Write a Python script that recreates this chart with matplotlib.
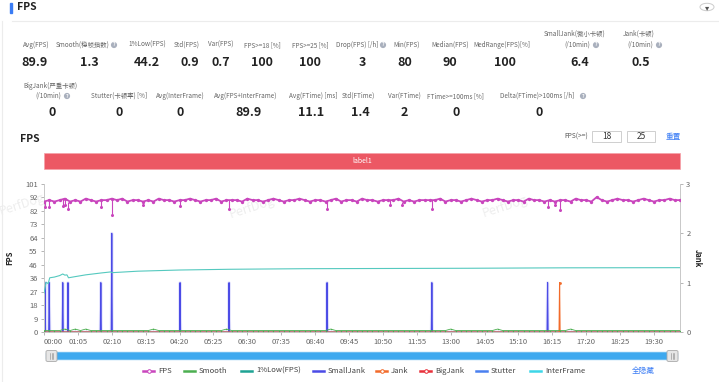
import numpy as np
import matplotlib
matplotlib.use('Agg')
import matplotlib.pyplot as plt
from matplotlib.lines import Line2D
from matplotlib.patches import Rectangle, FancyBboxPatch, Circle

plt.rcParams['font.family'] = ['Noto Sans CJK SC', 'DejaVu Sans']

# ---- summary stats (top cards) ----
row1_labels = ['Avg(FPS)', 'Smooth(稳帧指数)', '1%Low(FPS)', 'Std(FPS)', 'Var(FPS)', 'FPS>=18 [%]',
               'FPS>=25 [%]', 'Drop(FPS) [/h]', 'Min(FPS)', 'Median(FPS)', 'MedRange(FPS)[%]',
               'SmallJank(微小卡顿)', 'Jank(卡顿)']
row1_values = ['89.9', '1.3', '44.2', '0.9', '0.7', '100', '100', '3', '80', '90', '100', '6.4', '0.5']
row2_labels = ['BigJank(严重卡顿)', 'Stutter(卡顿率) [%]', 'Avg(InterFrame)', 'Avg(FPS+InterFrame)',
               'Avg(FTime) [ms]', 'Std(FTime)', 'Var(FTime)', 'FTime>=100ms [%]', 'Delta(FTime)>100ms [/h]']
row2_values = ['0', '0', '0', '89.9', '11.1', '1.4', '2', '0', '0']

# ---- time series ----
fps_t = np.arange(0, 1230, 10)   # sampled every 10 s
fps = [89, 90, 89, 90, 91, 89, 90, 89, 91, 90, 89, 90, 90, 91, 90, 91, 89, 90, 90, 89,
       90, 89, 91, 90, 90, 89, 90, 90, 91, 90, 89, 90, 90, 91, 89, 90, 90, 90, 89, 91,
       90, 90, 89, 90, 91, 90, 89, 90, 90, 91, 90, 89, 90, 90, 89, 90, 91, 89, 90, 90,
       89, 91, 90, 90, 89, 90, 90, 90, 91, 89, 90, 89, 90, 90, 90, 90, 91, 89, 90, 90,
       89, 90, 91, 90, 89, 90, 90, 91, 90, 89, 90, 90, 89, 91, 90, 90, 89, 90, 89, 90,
       90, 89, 91, 90, 90, 89, 92, 90, 89, 90, 91, 90, 90, 89, 90, 91, 90, 89, 90, 90,
       91, 90, 90]
# short frame-rate drops (time in s, fps)
dip_t = [1, 10, 36, 40, 46, 109, 130, 190, 260, 355, 543, 663, 686, 744, 966, 981, 989]
dip_v = [85, 85, 86, 87, 84, 85, 80, 87, 86, 84, 84, 87, 87, 84, 85, 87, 83]

smooth = [1, 1, 1, 1, 2, 1, 2, 1, 2, 1, 1, 1, 1, 1, 1, 1, 1, 1, 1, 1,
          1, 2, 1, 1, 1, 1, 1, 1, 1, 1, 1, 1, 1, 1, 1, 2, 1, 1, 1, 1,
          1, 1, 1, 1, 1, 1, 1, 1, 1, 1, 1, 1, 1, 1, 1, 2, 1, 1, 1, 1,
          1, 1, 1, 1, 1, 1, 1, 1, 1, 1, 1, 1, 1, 1, 1, 1, 1, 1, 2, 1,
          1, 1, 1, 1, 1, 1, 1, 2, 1, 1, 1, 1, 1, 1, 1, 1, 1, 1, 1, 1,
          1, 2, 1, 1, 1, 1, 1, 1, 1, 1, 1, 1, 1, 1, 1, 1, 1, 1, 1, 1,
          1, 1, 1]
low1_t = [0, 2, 4, 8, 11, 20, 30, 36, 40, 44, 47, 60, 80, 110, 128, 131, 180, 260, 355, 500, 817, 1000, 1220]
low1 = [26.6, 30, 34, 33, 37, 37.5, 38.5, 39.6, 38.8, 39, 37, 37.8, 39, 40.3, 41, 40.5, 41.5, 42.3, 42.8, 43.2, 43.5, 43.8, 43.9]

smalljank_t = [2, 10, 36, 46, 109, 130, 261, 355, 543, 744, 966]
smalljank_v = [1, 1, 1, 1, 1, 2, 1, 1, 1, 1, 1]
jank_t = [989]
jank_v = [1]

xtick_labels = ['00:00', '01:05', '02:10', '03:15', '04:20', '05:25', '06:30', '07:35', '08:40', '09:45',
                '10:50', '11:55', '13:00', '14:05', '15:10', '16:15', '17:20', '18:25', '19:30']
ytick_labels = ['0', '9', '18', '27', '36', '46', '55', '64', '73', '82', '92', '101']

W, H = 719, 382
def fx(x):
    return x / W
def fy(y):
    return 1 - y / H

fig = plt.figure(figsize=(W / 100, H / 100), dpi=100)
fig.patch.set_facecolor('white')

# header
fig.add_artist(Rectangle((fx(10), fy(13)), 2 / W, 10 / H, color='#3a7cf5'))
fig.text(fx(17), fy(7.5), 'FPS', fontsize=7.5, fontweight='bold', color='#222', va='center')
fig.add_artist(Line2D([fx(12), 1], [fy(21), fy(21)], color='#ececec', lw=0.8))
fig.add_artist(Line2D([fx(2), fx(2)], [fy(21), 0], color='#ececec', lw=0.8))
fig.add_artist(Circle((fx(707), fy(7)), 7 / W, transform=fig.transFigure, fc='white', ec='#cccccc', lw=0.7))
fig.text(fx(707), fy(7.5), '▾', fontsize=6, color='#555', ha='center', va='center', family='DejaVu Sans')

def help_icon(x, y):
    fig.text(fx(x), fy(y), '?', fontsize=3.6, color='white', ha='center', va='center', fontweight='bold',
             bbox=dict(boxstyle='circle,pad=0.12', fc='#a9b0bd', ec='none'))

label_col = '#666666'
lfs = 4.6
r1_lx = [36, 83, 147, 187, 221, 262, 310, 357, 407, 450, 502, 575, 639]
r1_vx = [35, 89, 147, 190, 221, 262, 310, 362, 405, 450, 505, 580, 641]
for lbl, val, lx, vx in zip(row1_labels, row1_values, r1_lx, r1_vx):
    ly = 34 if 'Jank' in lbl else 45
    fig.text(fx(lx), fy(ly), lbl, fontsize=lfs, color=label_col, ha='center', va='center')
    fig.text(fx(vx), fy(62), val, fontsize=9, fontweight='bold', color='#222', ha='center', va='center')
fig.text(fx(577), fy(45), '(/10min)', fontsize=lfs, color=label_col, ha='center', va='center')
fig.text(fx(640), fy(45), '(/10min)', fontsize=lfs, color=label_col, ha='center', va='center')
help_icon(114, 45)
help_icon(383, 45)
help_icon(596, 45)
help_icon(659, 45)

r2_lx = [50, 119, 180, 246, 313, 358, 404, 455, 537]
r2_vx = [52, 119, 180, 248, 311, 360, 404, 456, 539]
for lbl, val, lx, vx in zip(row2_labels, row2_values, r2_lx, r2_vx):
    ly = 86 if 'BigJank' in lbl else 96
    fig.text(fx(lx), fy(ly), lbl, fontsize=lfs, color=label_col, ha='center', va='center')
    fig.text(fx(vx), fy(112), val, fontsize=9, fontweight='bold', color='#222', ha='center', va='center')
fig.text(fx(48), fy(96), '(/10min)', fontsize=lfs, color=label_col, ha='center', va='center')
help_icon(67, 96)
help_icon(583, 96)

# chart header
fig.text(fx(20), fy(139), 'FPS', fontsize=7.5, fontweight='bold', color='#222', va='center')
fig.text(fx(576), fy(137), 'FPS(>=)', fontsize=4.8, color='#555', ha='center', va='center')
for x0, x1, s in [(592, 621, '18'), (627, 655, '25')]:
    fig.add_artist(Rectangle((fx(x0), fy(142)), (x1 - x0) / W, 11 / H, fc='white', ec='#cfcfcf', lw=0.7))
    fig.text(fx((x0 + x1) / 2), fy(136.5), s, fontsize=6, color='#333', ha='center', va='center')
fig.text(fx(673), fy(136.5), '重置', fontsize=5.5, color='#3a7cf5', ha='center', va='center')

# label bar
fig.add_artist(Rectangle((fx(44), fy(169)), 636 / W, 16 / H, fc='#ec5864', ec='#f5a0a8', lw=0.5))
fig.text(fx(362), fy(161), 'label1', fontsize=5, color='white', ha='center', va='center')

# watermarks
for wx, wy in [(22, 205), (252, 208), (505, 207)]:
    fig.text(fx(wx), fy(wy), 'PerfDog', fontsize=9, color='#eeeeee', ha='center', va='center', rotation=18, zorder=0)

# main axes
ax = fig.add_axes([fx(44), fy(332), 636 / W, 148 / H])
ax2 = ax.twinx()
ax.set_zorder(ax2.get_zorder() + 1)
ax.patch.set_visible(False)

fps_col = '#c945bd'
ax.plot(fps_t, fps, color=fps_col, lw=1.3, marker='o', ms=2.4, mew=0, zorder=5)
dip_top = [fps[int(round(t / 10))] for t in dip_t]
ax.vlines(dip_t, dip_v, dip_top, color=fps_col, lw=0.8, zorder=5)
ax.plot(dip_t, dip_v, 'o', color=fps_col, ms=2.2, mew=0, zorder=5)
ax.plot(fps_t, smooth, color='#4caf50', lw=0.6, marker='o', ms=1.0, mew=0, zorder=4)
ax.plot(low1_t, low1, color='#55c9bf', lw=0.8, zorder=4)
ax.plot([0, 1220], [0, 0], color='#3dd6e8', lw=0.6, zorder=3)

# event series on the Jank axis
sec = np.arange(0, 1221)
sj = np.zeros(len(sec))
sj[smalljank_t] = smalljank_v
jk = np.zeros(len(sec))
jk[jank_t] = jank_v
ax2.plot(sec, sj, color='#7b7bf5', lw=2.2, alpha=0.2)
ax2.plot(sec, sj, color='#4b4be6', lw=0.8)
ax2.plot([0, 1220], [0, 0], color='#e8303a', lw=0.6)
ax2.plot([0, 1220], [0, 0], color='#4a80f0', lw=0.6)
ax2.plot(sec, jk, color='#f26b2a', lw=0.8, marker='o', ms=2, mew=0, markevery=jank_t)

ax.set_xlim(0, 1220)
ax.set_ylim(0, 101)
ax2.set_ylim(0, 3)
ax.set_yticks(np.linspace(0, 101, 12))
ax.set_yticklabels(ytick_labels)
ax2.set_yticks([0, 1, 2, 3])
ax.set_xticks(np.arange(0, 1221, 65))
ax.set_xticklabels(xtick_labels)
ax.get_xticklabels()[0].set_horizontalalignment('left')

for a in (ax, ax2):
    for s in a.spines.values():
        s.set_color('#c8c8c8')
        s.set_linewidth(0.7)
    a.spines['top'].set_visible(False)
    a.tick_params(length=2.5, width=0.6, color='#aaaaaa', labelsize=5.5, labelcolor='#666666', pad=2)
ax.spines['right'].set_visible(False)
ax2.spines['left'].set_visible(False)
ax.set_ylabel('FPS', fontsize=5.5, fontweight='bold', color='#222', labelpad=8)
ax2.set_ylabel('Jank', fontsize=5.5, fontweight='bold', color='#222', rotation=-90, labelpad=8)

# zoom slider
fig.add_artist(FancyBboxPatch((fx(46), fy(360)), 632 / W, 8 / H, boxstyle='round,pad=0,rounding_size=0.004',
                              fc='#3ea9ef', ec='#bfe0f7', lw=0.5))
for hx in (46, 667):
    fig.add_artist(FancyBboxPatch((fx(hx), fy(361.5)), 11 / W, 11 / H, boxstyle='round,pad=0,rounding_size=0.003',
                                  fc='#e6e6e6', ec='#aaaaaa', lw=0.6))
    for dx in (-1.5, 0, 1.5):
        fig.add_artist(Line2D([fx(hx + 5.5 + dx)] * 2, [fy(358.5), fy(353)], color='#888', lw=0.4))

# legend
legend_items = [('FPS', '#c945bd', True, 143), ('Smooth', '#4caf50', False, 184), ('1%Low(FPS)', '#1fa394', False, 241),
                ('SmallJank', '#4b4be6', False, 313), ('Jank', '#f26b2a', True, 376), ('BigJank', '#e8303a', True, 420),
                ('Stutter', '#4a80f0', False, 476), ('InterFrame', '#3dd6e8', False, 530)]
for name, col, mk, x0 in legend_items:
    fig.add_artist(Line2D([fx(x0), fx(x0 + 11)], [fy(371), fy(371)], color=col, lw=1.8))
    if mk:
        fig.add_artist(Line2D([fx(x0 + 5.5)], [fy(371)], color=col, marker='o', ms=2.6, mfc='white', mew=0.7))
    fig.text(fx(x0 + 15), fy(371), name, fontsize=5.5, color='#444', va='center')
fig.text(fx(643), fy(371), '全隐藏', fontsize=5.5, color='#3a7cf5', ha='center', va='center')

fig.savefig('out.png', dpi=100, facecolor='white')
